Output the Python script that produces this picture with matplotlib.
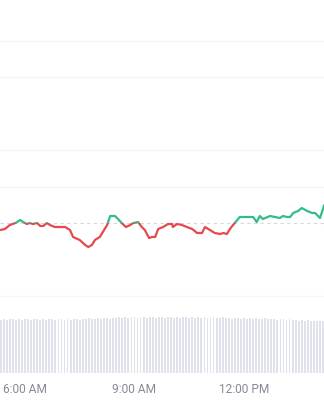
import matplotlib
matplotlib.use("Agg")
import matplotlib.pyplot as plt
from matplotlib.patches import Rectangle

# ---- data ----
# price line: minutes since midnight, price
times = [319, 327, 335, 344, 347, 352, 357, 363, 368, 373, 380, 385, 390, 396, 401,
         409, 418, 426, 434, 439, 450, 459, 464, 470, 475, 483, 488, 495, 500, 508,
         513, 519, 526, 533, 538, 546, 552, 557, 564, 569, 574, 579, 587, 595, 602,
         603, 610, 618, 626, 635, 643, 651, 656, 664, 672, 681, 686, 692, 697, 702,
         709, 713, 725, 735, 741, 746, 751, 763, 771, 779, 784, 791, 796, 801, 809,
         815, 824, 832, 837, 845, 852]
prices = [99.3, 99.4, 99.8, 100.0, 100.1, 100.3, 100.1, 99.9, 100.0, 99.9,
          100.0, 99.7, 99.7, 100.0, 99.8, 99.6, 99.6, 99.6, 99.3, 98.6,
          98.3, 97.8, 97.6, 97.8, 98.3, 98.6, 99.1, 99.8, 100.7, 100.7,
          100.4, 100.0, 99.6, 99.8, 100.0, 100.1, 99.6, 99.3, 98.5, 98.6,
          98.6, 99.4, 99.6, 99.9, 99.9, 99.6, 99.9, 99.8, 99.6, 99.4,
          99.0, 99.0, 99.6, 99.3, 99.0, 98.9, 99.0, 98.9, 99.4, 99.8,
          100.3, 100.6, 100.6, 100.6, 100.1, 100.7, 100.4, 100.7, 100.6, 100.5,
          100.7, 100.6, 100.6, 101.0, 101.2, 101.5, 101.2, 101.0, 101.0, 100.5,
          101.8]
prev_close = 100.0

# volume bars: every 5 minutes from 5:20 to 14:10
vol_times = list(range(320, 851, 5))
volumes = [53, 54, 53, 54, 54, 53, 54, 53, 54, 54,
           53, 54, 54, 53, 54, 53, 54, 54, 53, 54,
           54, 53, 54, 53, 54, 54, 53, 54, 54, 55,
           54, 54, 55, 54, 55, 55, 54, 55, 55, 56,
           55, 56, 55, 56, 56, 55, 56, 56, 55, 56,
           56, 55, 56, 56, 55, 56, 56, 55, 56, 55,
           56, 56, 55, 56, 55, 56, 55, 56, 55, 55,
           56, 55, 55, 56, 55, 55, 54, 55, 55, 54,
           55, 54, 55, 54, 55, 54, 54, 55, 54, 54,
           54, 53, 54, 54, 53, 54, 53, 53, 52, 53,
           52, 53, 52, 52, 52, 52, 52]
grid_levels = [118.2, 114.6, 107.3, 103.6, 92.7]
tick_pos = [360, 540, 720]
tick_labels = ["6:00 AM", "9:00 AM", "12:00 PM"]

XMIN, XMAX = 318.9, 851.6
RED = "#e5484d"
GREEN = "#33bd86"

fig = plt.figure(figsize=(3.24, 4.0), dpi=100)
fig.patch.set_facecolor("white")

# price axes covering whole figure
ax = fig.add_axes([0, 0, 1, 1])
ax.set_xlim(XMIN, XMAX)
ax.set_ylim(82.3, 122.3)
ax.axis("off")
for g in grid_levels:
    ax.axhline(g, color="#f6f6f8", lw=1.0, zorder=0)
ax.axhline(prev_close, color="#d6d8dc", lw=0.8, ls=(0, (3, 3)), zorder=1)

above = Rectangle((XMIN, prev_close), XMAX - XMIN, 100, transform=ax.transData)
below = Rectangle((XMIN, prev_close - 100), XMAX - XMIN, 100, transform=ax.transData)
lg, = ax.plot(times, prices, color=GREEN, lw=1.6, solid_joinstyle="round",
              solid_capstyle="round", zorder=3)
lg.set_clip_path(above)
lr, = ax.plot(times, prices, color=RED, lw=1.6, solid_joinstyle="round",
              solid_capstyle="round", zorder=3)
lr.set_clip_path(below)

# volume axes
vax = fig.add_axes([0, 27 / 400, 1, 60 / 400])
vax.set_xlim(XMIN, XMAX)
vax.set_ylim(0, 60)
vax.bar(vol_times, volumes, width=3.0, color="#dfe2ea", align="center")
for s in vax.spines.values():
    s.set_visible(False)
vax.set_yticks([])
vax.set_xticks(tick_pos)
vax.set_xticklabels(tick_labels, fontsize=8.6, color="#858a94", family="Roboto")
vax.tick_params(axis="x", length=0, pad=7)
vax.patch.set_alpha(0)

fig.savefig("out.png", dpi=100, facecolor="white")
